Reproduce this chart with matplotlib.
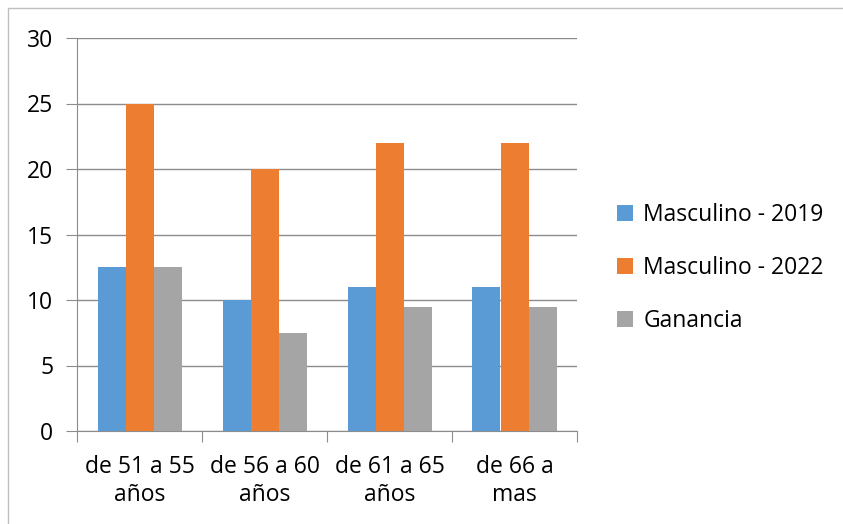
import numpy as np
import matplotlib.pyplot as plt
from matplotlib.patches import Rectangle

categories = ['de 51 a 55\naños', 'de 56 a 60\naños', 'de 61 a 65\naños', 'de 66 a\nmas']
series_names = ['Masculino - 2019', 'Masculino - 2022', 'Ganancia']
masc_2019 = [12.5, 10, 11, 11]
masc_2022 = [25, 20, 22, 22]
ganancia = [12.5, 7.5, 9.5, 9.5]
colors = ['#5b9bd5', '#ed7d31', '#a5a5a5']

plt.rcParams['font.family'] = ['Open Sans', 'DejaVu Sans']

fig = plt.figure(figsize=(8.43, 5.24), dpi=100)
ax = fig.add_axes([77/843, 1 - 431/524, 500/843, 393/524])

x = np.arange(len(categories))
w = 0.224
for i, (vals, name) in enumerate(zip([masc_2019, masc_2022, ganancia], series_names)):
    ax.bar(x + (i - 1) * w, vals, width=w, color=colors[i], label=name, zorder=3)

ax.set_xlim(-0.5, len(categories) - 0.5)
ax.set_ylim(0, 30)
ax.set_yticks(range(0, 31, 5))
ax.yaxis.grid(True, color='#8c8c8c', linewidth=1, zorder=0)
ax.set_xticks(np.arange(-0.5, len(categories), 1))
ax.set_xticklabels([])
ax.set_xticks(x, minor=True)
ax.set_xticklabels(categories, minor=True, fontsize=16.5, linespacing=1.25)
ax.tick_params(axis='x', which='minor', length=0, pad=17)
ax.tick_params(axis='x', which='major', length=8, color='#8c8c8c')
ax.tick_params(axis='y', length=8, color='#8c8c8c', labelsize=16.5, pad=9)
for s in ['top', 'right']:
    ax.spines[s].set_visible(False)
for s in ['left', 'bottom']:
    ax.spines[s].set_color('#8c8c8c')

ax.legend(loc='center left', bbox_to_anchor=(1.08, 0.415), frameon=False, fontsize=16.5,
          handlelength=0.7, handleheight=0.7, handletextpad=0.45, labelspacing=1.25,
          borderaxespad=0, borderpad=0)

fig.patches.append(Rectangle((8/843, -0.1), 2, 1 - 8/524 + 0.1, transform=fig.transFigure,
                             fill=False, edgecolor='#bfbfbf', linewidth=1))

fig.savefig('out.png', dpi=100)
